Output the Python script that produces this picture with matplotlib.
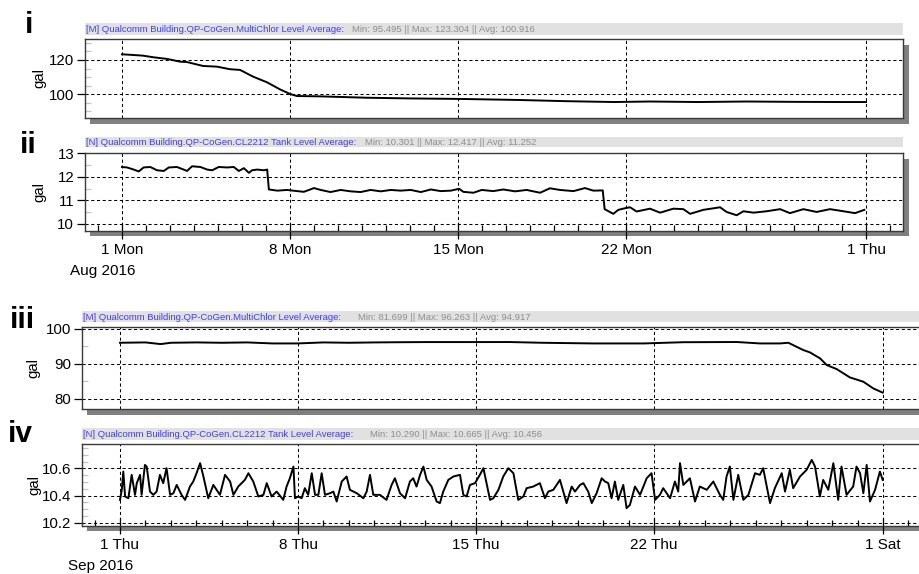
import matplotlib
matplotlib.use('Agg')
import matplotlib.pyplot as plt
from matplotlib.patches import Rectangle

plt.rcParams['font.family'] = ['Liberation Sans', 'DejaVu Sans']

# ---------------- data (days since start of month) ----------------
# Panel i : MultiChlor level, Aug 2016
days_i = [0, 0.46, 0.88, 1.29, 1.88, 2.42, 2.7, 3.38, 3.96, 4.5, 4.92, 5.46, 6.04,
          6.58, 7.0, 7.29, 8.25, 10.2, 12.0, 14.1, 16.5, 18.5, 20.5, 22, 24, 26, 28, 30, 31]
vals_i = [123.3, 122.9, 122.5, 121.6, 120.6, 119.0, 118.8, 116.5, 116.1, 114.6, 114.2,
          110.3, 107.0, 102.9, 100.2, 99.0, 98.8, 98.0, 97.6, 97.3, 96.7, 96.0, 95.5,
          95.8, 95.5, 95.8, 95.6, 95.5, 95.5]

# Panel ii : CL2212 tank level, Aug 2016
days_ii = [0, 0.21, 0.49, 0.70, 0.90, 1.18, 1.46, 1.74, 1.95, 2.29, 2.57, 2.71, 2.92,
           3.27, 3.55, 3.76, 4.03, 4.38, 4.66, 4.87, 5.08, 5.29, 5.42, 5.63, 5.91, 6.05,
           6.12, 6.47, 6.88, 7.30, 7.58, 8.00, 8.28, 8.69, 9.11, 9.53, 9.94, 10.36, 10.78,
           11.20, 11.61, 12.03, 12.45, 12.87, 13.28, 13.70, 14.05, 14.22, 14.64, 14.99,
           15.47, 15.89, 16.38, 16.86, 17.42, 17.83, 18.25, 18.81, 19.29, 19.64, 20.03,
           20.11, 20.47, 20.68, 20.96, 21.17, 21.44, 22.00, 22.42, 22.97, 23.39, 23.67,
           24.22, 24.92, 25.19, 25.61, 25.89, 26.31, 26.86, 27.42, 27.83, 28.39, 28.94,
           29.50, 30.06, 30.54, 30.93]
vals_ii = [12.42, 12.40, 12.31, 12.23, 12.40, 12.42, 12.28, 12.25, 12.40, 12.42, 12.31,
           12.25, 12.45, 12.42, 12.31, 12.28, 12.42, 12.40, 12.42, 12.25, 12.37, 12.17,
           12.28, 12.31, 12.28, 12.31, 11.46, 11.41, 11.44, 11.39, 11.36, 11.52, 11.44,
           11.35, 11.44, 11.38, 11.35, 11.44, 11.38, 11.44, 11.41, 11.44, 11.35, 11.46,
           11.39, 11.41, 11.49, 11.36, 11.32, 11.44, 11.39, 11.46, 11.38, 11.44, 11.32,
           11.51, 11.44, 11.39, 11.52, 11.41, 11.42, 10.62, 10.42, 10.59, 10.66, 10.70,
           10.52, 10.64, 10.47, 10.64, 10.62, 10.42, 10.59, 10.70, 10.50, 10.36, 10.53,
           10.47, 10.53, 10.62, 10.45, 10.62, 10.50, 10.62, 10.53, 10.45, 10.59]

# Panel iii : MultiChlor level, Sep 2016
days_iii = [0, 1.0, 1.6, 2.0, 3.0, 4.0, 5.0, 6.0, 7.0, 8.0, 9.0, 10.0, 11.0, 12.0, 13.37,
            15.33, 16.6, 18.6, 20.6, 22.15, 24.25, 25.16, 25.95, 26.28, 26.47, 26.87,
            27.13, 27.53, 27.79, 28.18, 28.7, 29.23, 29.62, 29.99]
vals_iii = [96.04, 96.14, 95.66, 96.04, 96.14, 96.04, 96.14, 95.85, 95.85, 96.14, 96.04,
            96.14, 96.20, 96.24, 96.24, 96.25, 96.04, 95.85, 95.85, 96.20, 96.26, 95.85,
            95.85, 96.04, 95.37, 93.94, 93.27, 91.54, 89.63, 88.48, 86.08, 84.84, 82.92,
            81.70]

# Panel iv : CL2212 tank level, Sep 2016
days_iv = [0.00, 0.07, 0.13, 0.20, 0.33, 0.46, 0.59, 0.66, 0.79, 0.85, 0.98, 1.05, 1.18,
           1.31, 1.44, 1.57, 1.70, 1.83, 1.97, 2.10, 2.23, 2.42, 2.56, 2.75, 2.88, 3.01,
           3.15, 3.28, 3.47, 3.67, 3.93, 4.13, 4.33, 4.46, 4.65, 4.91, 5.05, 5.24, 5.44,
           5.64, 5.77, 5.96, 6.16, 6.42, 6.55, 6.68, 6.82, 6.88, 7.01, 7.14, 7.27, 7.40,
           7.54, 7.67, 7.80, 7.93, 8.06, 8.26, 8.39, 8.52, 8.72, 8.91, 9.04, 9.31, 9.57,
           9.70, 9.83, 9.96, 10.22, 10.48, 10.68, 10.81, 11.01, 11.21, 11.40, 11.53, 11.66,
           11.80, 11.93, 12.06, 12.25, 12.45, 12.58, 12.71, 12.91, 13.11, 13.37, 13.50,
           13.63, 13.76, 13.96, 14.15, 14.29, 14.55, 14.68, 14.88, 15.07, 15.27, 15.47,
           15.66, 15.86, 15.99, 16.25, 16.51, 16.71, 16.84, 17.04, 17.30, 17.56, 17.76,
           17.89, 18.09, 18.22, 18.41, 18.55, 18.74, 18.94, 19.07, 19.20, 19.33, 19.46,
           19.59, 19.79, 19.92, 20.05, 20.25, 20.45, 20.71, 20.90, 21.04, 21.23, 21.36,
           21.63, 21.82, 21.95, 22.02, 22.15, 22.41, 22.61, 22.80, 23.07, 23.33, 23.59,
           23.72, 23.85, 23.98, 24.12, 24.31, 24.51, 24.71, 24.97, 25.16, 25.29, 25.56,
           25.75, 26.02, 26.15, 26.34, 26.47, 26.74, 27.00, 27.20, 27.33, 27.52, 27.65,
           27.85, 28.05, 28.24, 28.37, 28.57, 28.83, 28.96, 29.10, 29.23, 29.36, 29.49,
           29.69, 29.88, 29.99]
vals_iv = [10.368, 10.442, 10.576, 10.393, 10.380, 10.552, 10.405, 10.491, 10.552, 10.405,
           10.625, 10.613, 10.429, 10.405, 10.429, 10.552, 10.491, 10.601, 10.405, 10.417,
           10.478, 10.405, 10.368, 10.466, 10.503, 10.564, 10.638, 10.540, 10.380, 10.478,
           10.405, 10.552, 10.503, 10.405, 10.466, 10.515, 10.564, 10.503, 10.393, 10.405,
           10.491, 10.393, 10.429, 10.368, 10.466, 10.527, 10.613, 10.380, 10.393, 10.380,
           10.454, 10.405, 10.564, 10.405, 10.405, 10.564, 10.405, 10.417, 10.429, 10.356,
           10.503, 10.540, 10.442, 10.417, 10.380, 10.429, 10.552, 10.405, 10.405, 10.368,
           10.478, 10.527, 10.417, 10.380, 10.503, 10.527, 10.466, 10.552, 10.613, 10.515,
           10.466, 10.356, 10.344, 10.429, 10.515, 10.540, 10.552, 10.405, 10.393, 10.478,
           10.491, 10.552, 10.601, 10.368, 10.380, 10.442, 10.540, 10.601, 10.564, 10.368,
           10.393, 10.454, 10.466, 10.491, 10.380, 10.429, 10.442, 10.515, 10.344, 10.466,
           10.429, 10.478, 10.491, 10.429, 10.344, 10.417, 10.527, 10.503, 10.491, 10.380,
           10.503, 10.368, 10.478, 10.307, 10.331, 10.466, 10.405, 10.527, 10.564, 10.368,
           10.405, 10.454, 10.380, 10.503, 10.429, 10.638, 10.478, 10.527, 10.356, 10.466,
           10.442, 10.503, 10.405, 10.368, 10.540, 10.613, 10.368, 10.552, 10.368, 10.405,
           10.564, 10.552, 10.601, 10.344, 10.454, 10.564, 10.429, 10.589, 10.454, 10.540,
           10.589, 10.662, 10.613, 10.393, 10.515, 10.442, 10.638, 10.368, 10.613, 10.405,
           10.466, 10.613, 10.564, 10.417, 10.625, 10.356, 10.442, 10.576, 10.515]

series_names = ["[M] Qualcomm Building.QP-CoGen.MultiChlor Level Average:",
                "[N] Qualcomm Building.QP-CoGen.CL2212 Tank Level Average:",
                "[M] Qualcomm Building.QP-CoGen.MultiChlor Level Average:",
                "[N] Qualcomm Building.QP-CoGen.CL2212 Tank Level Average:"]
series_stats = ["Min: 95.495 || Max: 123.304 || Avg: 100.916",
                "Min: 10.301 || Max: 12.417 || Avg: 11.252",
                "Min: 81.699 || Max: 96.263 || Avg: 94.917",
                "Min: 10.290 || Max: 10.665 || Avg: 10.456"]
panel_labels = ["i", "ii", "iii", "iv"]

aug_tick_days = [0, 7, 14, 21, 31]
aug_tick_labels = ["1 Mon", "8 Mon", "15 Mon", "22 Mon", "1 Thu"]
sep_tick_days = [0, 7, 14, 21, 30]
sep_tick_labels = ["1 Thu", "8 Thu", "15 Thu", "22 Thu", "1 Sat"]

yticks_i = [100, 120]
yticks_ii = [10, 11, 12, 13]
yticks_iii = [80, 90, 100]
yticks_iv = [10.2, 10.4, 10.6]
ytick_labels_iv = ["10.2", "10.4", "10.6"]

# ---------------- layout ----------------
W, H = 919, 574
fig = plt.figure(figsize=(W / 100, H / 100), dpi=100)


def fr(l, t, r, b):
    return [l / W, 1 - b / H, (r - l) / W, (b - t) / H]


def add_rect(l, t, r, b, color):
    fig.patches.append(Rectangle((l / W, 1 - b / H), (r - l) / W, (b - t) / H,
                                 transform=fig.transFigure, facecolor=color,
                                 edgecolor='none', zorder=-1))


def fig_text(x, y, s, **kw):
    fig.text(x / W, 1 - y / H, s, **kw)


DASH = (0, (3, 2.5))
BLUE = '#3f3fff'
GRAYTXT = '#8e8e8e'
TFS = 6.8

panels = [
    dict(box=(85, 39, 903, 118), bar=(23, 35), stat_x=352, xlim=(-1.54, 32.54),
         ylim=(86.2, 132.2), yt=yticks_i, ytl=[str(v) for v in yticks_i], ymin=5,
         x=days_i, y=vals_i, xt=aug_tick_days, xtl=None, lab=(25, 33), gal=39),
    dict(box=(85, 152.7, 903, 230.7), bar=(137, 147.3), stat_x=365, xlim=(-1.54, 32.54),
         ylim=(9.70, 13.03), yt=yticks_ii, ytl=[str(v) for v in yticks_ii], ymin=0.5,
         x=days_ii, y=vals_ii, xt=aug_tick_days, xtl=aug_tick_labels, lab=(20, 153),
         gal=39),
    dict(box=(82, 326.7, 960, 409), bar=(311, 322.3), stat_x=358, xlim=(-1.494, 33.03),
         ylim=(77.0, 100.66), yt=yticks_iii, ytl=[str(v) for v in yticks_iii], ymin=5,
         x=days_iii, y=vals_iii, xt=sep_tick_days, xtl=None, lab=(10, 328), gal=33),
    dict(box=(82, 444, 960, 525.7), bar=(428.3, 440), stat_x=370, xlim=(-1.494, 33.03),
         ylim=(10.178, 10.779), yt=yticks_iv, ytl=ytick_labels_iv, ymin=0.05,
         x=days_iv, y=vals_iv, xt=sep_tick_days, xtl=sep_tick_labels, lab=(8, 442),
         gal=34),
]

for i, p in enumerate(panels):
    l, t, r, b = p['box']
    ax = fig.add_axes(fr(l, t, r, b))
    ax.plot(p['x'], p['y'], color='black', lw=1.4, zorder=3)
    ax.set_xlim(*p['xlim'])
    ax.set_ylim(*p['ylim'])

    ax.set_yticks(p['yt'])
    ax.set_yticklabels(p['ytl'])
    ax.yaxis.set_minor_locator(matplotlib.ticker.MultipleLocator(p['ymin']))
    ax.tick_params(axis='y', which='major', direction='out', length=5.8, width=0.9,
                   color='black', labelsize=10.8, pad=2)
    ax.tick_params(axis='y', which='minor', direction='in', length=4.3, width=0.9,
                   color='#c4c4c4')

    ax.set_xticks(p['xt'])
    if p['xtl'] is not None:
        ax.set_xticklabels(p['xtl'])
        ax.xaxis.set_minor_locator(matplotlib.ticker.MultipleLocator(1))
        ax.tick_params(axis='x', which='major', direction='inout', length=11.5,
                       width=0.9, color='black', labelsize=11, pad=3)
        ax.tick_params(axis='x', which='minor', direction='in', length=4.3,
                       width=0.9, color='black')
    else:
        ax.tick_params(axis='x', which='both', bottom=False, labelbottom=False)

    ax.grid(True, which='major', color='black', linestyle=DASH, lw=0.75, zorder=1)
    ax.set_axisbelow(True)
    for s in ax.spines.values():
        s.set_color('#3a3a3a')
        s.set_linewidth(1.0)

    # drop shadow of the plot box
    add_rect(l + 5, b, r + 5.5, b + 5.5, '#808080')
    add_rect(r, t + 6, r + 5.5, b + 5.5, '#808080')

    # title bar
    bt, bb = p['bar']
    add_rect(l, bt, min(r, W + 5), bb, '#e1e1e1')
    yc = (bt + bb) / 2
    fig_text(l + 1, yc + 0.5, series_names[i], color=BLUE, fontsize=TFS, va='center',
             ha='left')
    fig_text(p['stat_x'], yc + 0.5, series_stats[i], color=GRAYTXT, fontsize=TFS,
             va='center', ha='left')

    # axis label
    fig_text(p['gal'], (t + b) / 2, 'gal', fontsize=10.8, rotation=90, ha='center',
             va='center')

    # panel label
    fig_text(p['lab'][0], p['lab'][1], panel_labels[i], fontsize=21.5,
             fontweight='bold', ha='left', va='baseline')

fig_text(70, 275, 'Aug 2016', fontsize=11, ha='left', va='baseline')
fig_text(68, 570, 'Sep 2016', fontsize=11, ha='left', va='baseline')

fig.savefig('out.png', dpi=100)
